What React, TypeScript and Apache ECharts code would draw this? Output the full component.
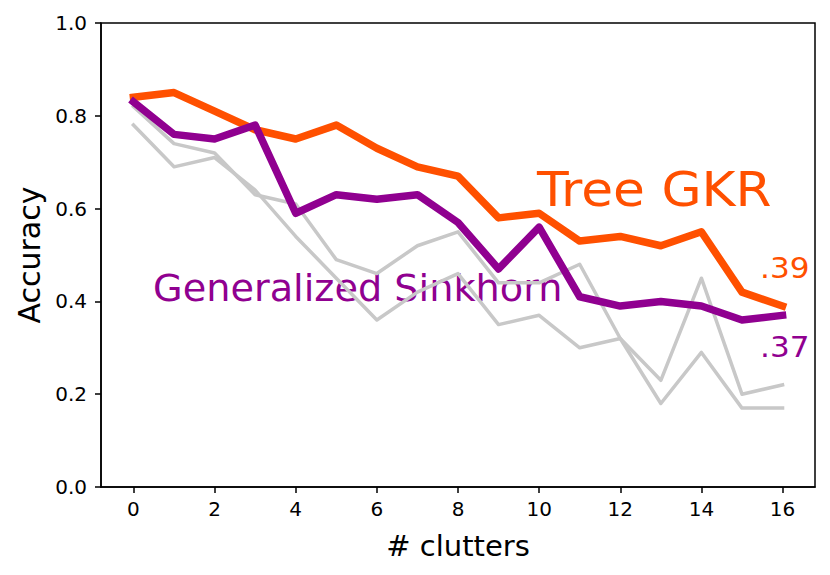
import React, { useEffect, useRef } from "react";
import * as echarts from "echarts";

const clutters = [0, 1, 2, 3, 4, 5, 6, 7, 8, 9, 10, 11, 12, 13, 14, 15, 16];
const treeGKR = [0.84, 0.85, 0.81, 0.77, 0.75, 0.78, 0.73, 0.69, 0.67, 0.58, 0.59, 0.53, 0.54, 0.52, 0.55, 0.42, 0.39];
const generalizedSinkhorn = [0.83, 0.76, 0.75, 0.78, 0.59, 0.63, 0.62, 0.63, 0.57, 0.47, 0.56, 0.41, 0.39, 0.40, 0.39, 0.36, 0.37];
const baselineA = [0.82, 0.74, 0.72, 0.63, 0.61, 0.49, 0.46, 0.52, 0.55, 0.44, 0.44, 0.48, 0.32, 0.23, 0.45, 0.2, 0.22];
const baselineB = [0.78, 0.69, 0.71, 0.64, 0.54, 0.45, 0.36, 0.42, 0.46, 0.35, 0.37, 0.3, 0.32, 0.18, 0.29, 0.17, 0.17];
const xTicks = [0, 2, 4, 6, 8, 10, 12, 14, 16];
const yTickLabels = ["0.0", "0.2", "0.4", "0.6", "0.8", "1.0"];

const ORANGE = "#ff5000";
const PURPLE = "#900090";
const GRAY = "#c8c8c8";
const FONT = "DejaVu Sans";

export default function App() {
  const ref = useRef<HTMLDivElement>(null);
  useEffect(() => {
    document.body.style.margin = "0";
    const chart = echarts.init(ref.current as HTMLDivElement, null, { renderer: "svg" });
    const pairs = (ys: number[]) => clutters.map((x, i) => [x, ys[i]]);
    const lineSeries = (name: string, ys: number[], color: string, width: number) => ({
      name,
      type: "line",
      data: pairs(ys),
      symbol: "none",
      lineStyle: { color, width, cap: "square", join: "round" },
      itemStyle: { color },
      silent: true,
    });
    const label = (text: string, x: number, y: number, size: number, sx: number, color: string) => ({
      type: "text",
      x,
      y,
      scaleX: sx,
      style: { text, fill: color, font: `${size}px "${FONT}"`, align: "left", verticalAlign: "top" },
    });
    chart.setOption({
      animation: false,
      textStyle: { fontFamily: FONT },
      grid: {
        left: 101,
        right: 15,
        top: 23,
        bottom: 88,
        show: true,
        borderColor: "#000",
        borderWidth: 1.5,
        backgroundColor: "transparent",
      },
      xAxis: {
        type: "value",
        min: -0.8,
        max: 16.8,
        name: "# clutters",
        nameLocation: "middle",
        nameGap: 44,
        nameTextStyle: { fontSize: 29, color: "#000", fontFamily: FONT },
        axisLine: { show: true, onZero: false, lineStyle: { color: "#000", width: 1.5 } },
        axisTick: { show: true, length: 6, lineStyle: { color: "#000", width: 1.5 }, customValues: xTicks },
        axisLabel: { customValues: xTicks, fontSize: 20, color: "#000", margin: 12, fontFamily: FONT },
        splitLine: { show: false },
      },
      yAxis: {
        type: "value",
        min: 0,
        max: 1,
        interval: 0.2,
        name: "Accuracy",
        nameLocation: "middle",
        nameGap: 57,
        nameTextStyle: { fontSize: 30, color: "#000", fontFamily: FONT },
        axisLine: { show: true, onZero: false, lineStyle: { color: "#000", width: 1.5 } },
        axisTick: { show: true, length: 6, lineStyle: { color: "#000", width: 1.5 } },
        axisLabel: {
          fontSize: 20,
          color: "#000",
          margin: 14,
          fontFamily: FONT,
          formatter: (v: number) => yTickLabels[Math.round(v * 5)] ?? String(v),
        },
        splitLine: { show: false },
      },
      series: [
        lineSeries("Baseline A", baselineA, GRAY, 3.5),
        lineSeries("Baseline B", baselineB, GRAY, 3.5),
        lineSeries("Tree GKR", treeGKR, ORANGE, 7.5),
        lineSeries("Generalized Sinkhorn", generalizedSinkhorn, PURPLE, 7.5),
      ],
      graphic: [
        label("Tree GKR", 537, 165.5, 48, 1.08, ORANGE),
        label("Generalized Sinkhorn", 153, 269.5, 36.6, 1.045, PURPLE),
        label(".39", 760, 253.5, 28.8, 1.08, ORANGE),
        label(".37", 760, 332, 28.8, 1.08, PURPLE),
      ],
    });
    return () => chart.dispose();
  }, []);
  return <div ref={ref} style={{ width: 830, height: 575 }} />;
}
